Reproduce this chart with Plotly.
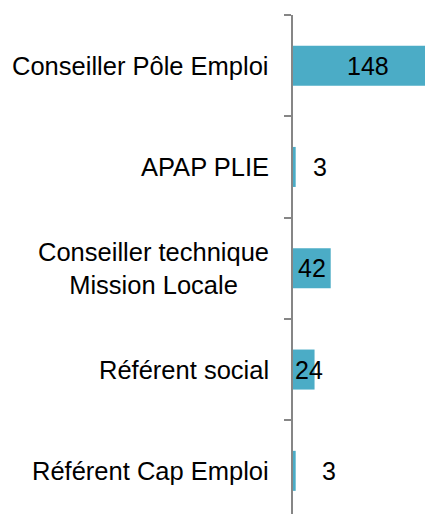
import plotly.graph_objects as go

categories = ["Conseiller Pôle Emploi", "APAP PLIE", "Conseiller technique<br>Mission Locale",
              "Référent social", "Référent Cap Emploi"]
values = [148, 3, 42, 24, 3]
label_shift = [9, 26, 0, 5, 35]  # horizontal nudges of data labels (px)

BAR = "#4BACC6"
FONT = "Liberation Sans, Arial, sans-serif"

fig = go.Figure()
fig.add_trace(go.Bar(
    y=categories, x=values, orientation="h",
    marker=dict(color=BAR, line=dict(width=0)),
    hoverinfo="skip",
))

annotations = []
for c, v, s in zip(categories, values, label_shift):
    annotations.append(dict(
        x=v / 2, y=c, xref="x", yref="y", text=str(v), showarrow=False,
        xanchor="center", yanchor="middle", xshift=s,
        font=dict(family=FONT, size=25, color="#000000"),
    ))
    annotations.append(dict(
        x=0, y=c, xref="paper", yref="y", text=c, showarrow=False,
        xanchor="right", yanchor="middle", xshift=-22, align="center",
        font=dict(family=FONT, size=25.5, color="#000000"),
    ))

fig.update_layout(
    width=425, height=514,
    margin=dict(l=293, r=0, t=15, b=0),
    paper_bgcolor="white", plot_bgcolor="white",
    showlegend=False,
    bargap=0.605,
    annotations=annotations,
    xaxis=dict(range=[0, 147], visible=False, showgrid=False, zeroline=False),
    yaxis=dict(
        type="category",
        categoryorder="array", categoryarray=categories,
        range=[4.426, -0.5],
        showticklabels=False,
        showline=True, linecolor="#868686", linewidth=2,
        ticks="outside", tickson="boundaries", ticklen=7, tickwidth=2, tickcolor="#868686",
        showgrid=False, zeroline=False,
    ),
)

fig.write_html("out.html", config={"displayModeBar": False},
               post_script="document.body.style.margin='0';document.body.style.overflow='hidden';")
